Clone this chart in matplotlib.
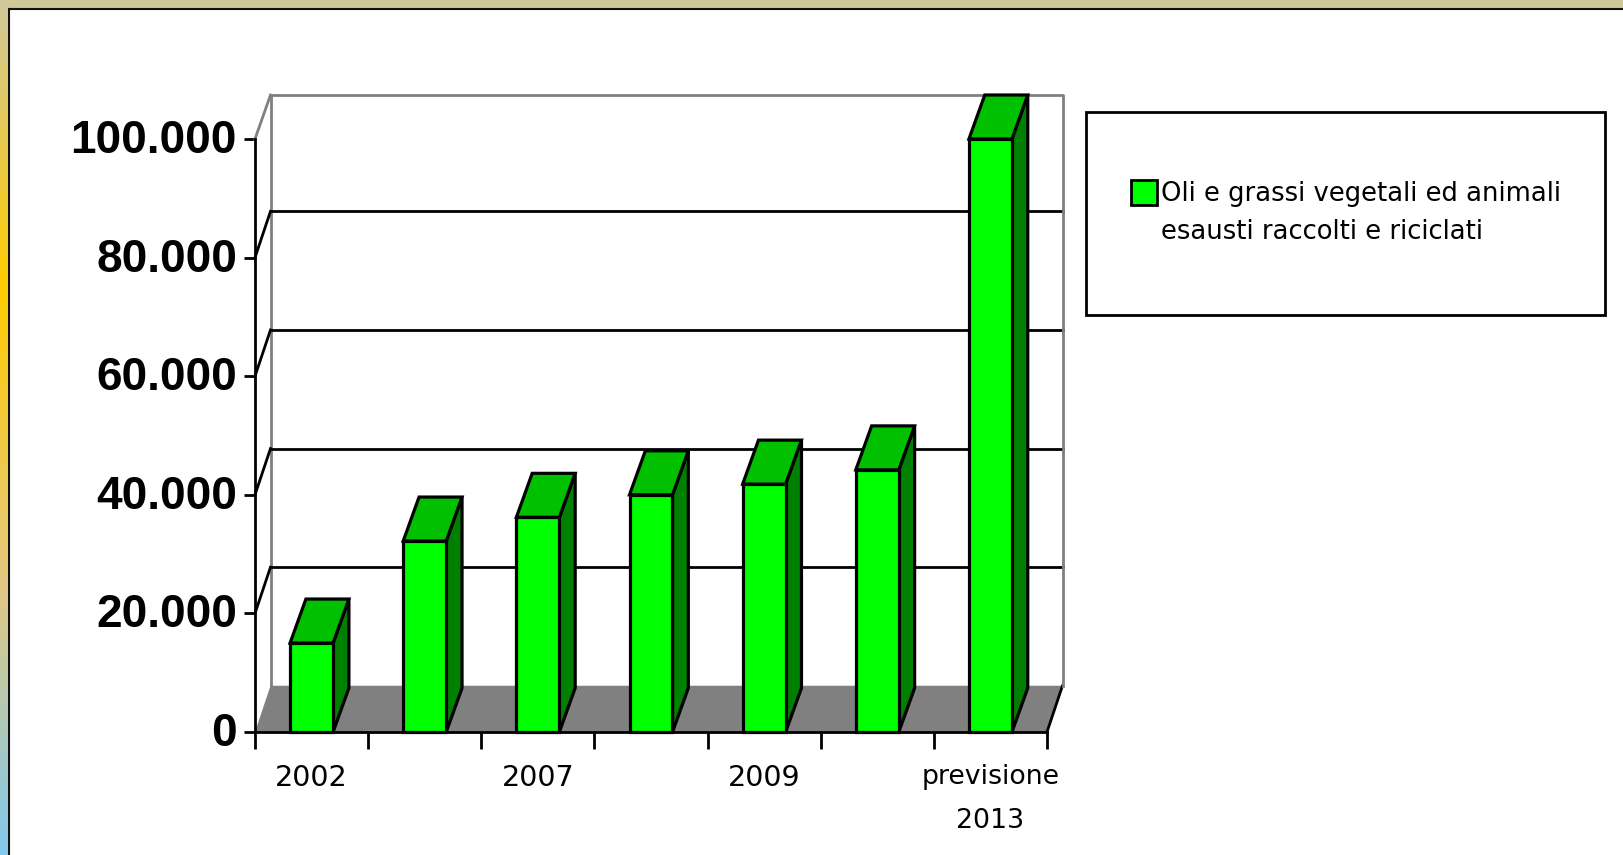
import matplotlib
matplotlib.use("Agg")
import matplotlib.pyplot as plt
import numpy as np
from matplotlib.colors import LinearSegmentedColormap
from matplotlib.lines import Line2D
from matplotlib.patches import Patch, Polygon, Rectangle
from matplotlib.transforms import ScaledTranslation

# data
categories = ["2002", "", "2007", "", "2009", "", "previsione\n2013"]
values = [15000, 32200, 36200, 40000, 41800, 44200, 100000]
y_ticks = [0, 20000, 40000, 60000, 80000, 100000]
y_labels = ["0", "20.000", "40.000", "60.000", "80.000", "100.000"]
legend_lines = ["Oli e grassi vegetali ed animali", "esausti raccolti e riciclati"]

W, H = 1623, 855
BAR_W = 0.38
WALL_DX, WALL_DY = 0.137, 7800   # 3d depth of the box, in data units
BAR_DX, BAR_DY = 0.14, 7420

FRONT = "#00ff00"
TOP = "#00c000"
SIDE = "#008000"
GREY = "#808080"

fig = plt.figure(figsize=(W / 100, H / 100), dpi=100, facecolor="#d0c898")

# page background: white panel, black edge, gradient strip on the left
fig.add_artist(Rectangle((8 / W, 0), 1, 1 - 9 / H, transform=fig.transFigure,
                         facecolor="white", edgecolor="none", zorder=-2))
fig.add_artist(Line2D([8.5 / W, 8.5 / W], [0, 1 - 9.5 / H], color="#111111", lw=1.5, zorder=-1))
fig.add_artist(Line2D([8.5 / W, 1], [1 - 9.5 / H, 1 - 9.5 / H], color="#111111", lw=1.5, zorder=-1))

strip = fig.add_axes([0, 0, 7.5 / W, 1 - 9 / H])
strip.axis("off")
cmap = LinearSegmentedColormap.from_list(
    "strip", [(0, "#d0c898"), (0.33, "#ffcc00"), (0.68, "#e2c880"), (1, "#80c8ee")])
strip.imshow(np.linspace(0, 1, 256).reshape(-1, 1), cmap=cmap, aspect="auto")

ax = fig.add_axes([255 / W, (H - 732) / H, (1047 - 255) / W, (732 - 139) / H])
ax.set_xlim(0, 7)
ax.set_ylim(0, 100000)
ax.patch.set_visible(False)


def poly(points, face, edge="black", lw=2.3, z=3):
    ax.add_patch(Polygon(points, closed=True, facecolor=face, edgecolor=edge,
                         linewidth=lw, clip_on=False, zorder=z, joinstyle="miter"))


# floor and back wall
poly([(0, 0), (7, 0), (7 + WALL_DX, WALL_DY), (WALL_DX, WALL_DY)], GREY, edge="none", z=1)
ax.plot([7, 7 + WALL_DX], [0, WALL_DY], color="black", lw=2, clip_on=False, zorder=2)
for t in y_ticks[1:-1]:
    ax.plot([0, WALL_DX], [t, t + WALL_DY], color="black", lw=2, clip_on=False, zorder=2)
    ax.plot([WALL_DX, 7 + WALL_DX], [t + WALL_DY, t + WALL_DY], color="black", lw=2,
            clip_on=False, zorder=2)
top_y = y_ticks[-1] + BAR_DY
ax.plot([0, WALL_DX], [y_ticks[-1], top_y], color=GREY, lw=2, clip_on=False, zorder=2)
ax.plot([WALL_DX, 7 + WALL_DX, 7 + WALL_DX], [top_y, top_y, WALL_DY], color=GREY, lw=2,
        clip_on=False, zorder=2)
ax.plot([WALL_DX, WALL_DX], [WALL_DY, top_y], color=GREY, lw=2, clip_on=False, zorder=1.5)

# 3d bars
for i, v in enumerate(values):
    x0 = i + 0.5 - BAR_W / 2
    x1 = i + 0.5 + BAR_W / 2
    poly([(x1, 0), (x1 + BAR_DX, BAR_DY), (x1 + BAR_DX, v + BAR_DY), (x1, v)], SIDE)
    poly([(x0, v), (x1, v), (x1 + BAR_DX, v + BAR_DY), (x0 + BAR_DX, v + BAR_DY)], TOP)
    poly([(x0, 0), (x1, 0), (x1, v), (x0, v)], FRONT)

# axes
for side in ["top", "right"]:
    ax.spines[side].set_visible(False)
for side in ["left", "bottom"]:
    ax.spines[side].set_linewidth(2)
    ax.spines[side].set_zorder(6)

ax.set_yticks(y_ticks)
ax.set_yticklabels(y_labels, fontsize=33, fontweight="bold", family="Liberation Sans")
ax.tick_params(axis="y", length=8, width=2, pad=5)
lift = ScaledTranslation(0, 3 / 100, fig.dpi_scale_trans)
for lab in ax.get_yticklabels():
    lab.set_transform(lab.get_transform() + lift)

ax.set_xticks(range(8))
ax.set_xticklabels([])
ax.tick_params(axis="x", which="major", length=12, width=2)
ax.set_xticks(np.arange(len(categories)) + 0.5, minor=True)
ax.set_xticklabels(categories, minor=True, fontsize=20.5, linespacing=1.9)
ax.tick_params(axis="x", which="minor", length=0, pad=23)
ax.get_xticklabels(minor=True)[-1].set_fontsize(19.3)

# legend box
fig.add_artist(Rectangle((1086 / W, (H - 315) / H), (1605 - 1086) / W, (315 - 112) / H,
                         transform=fig.transFigure, facecolor="white", edgecolor="black",
                         linewidth=2, zorder=-1))
handles = [Patch(facecolor=FRONT, edgecolor="black", linewidth=2), Patch(visible=False)]
fig.legend(handles, legend_lines, loc="upper left",
           bbox_to_anchor=(1131 / W, (H - 180) / H), frameon=False, fontsize=18.6,
           handlelength=1.0, handleheight=1.1, handletextpad=0.15, labelspacing=0.42,
           borderpad=0, borderaxespad=0)

fig.savefig("out.png", dpi=100)
